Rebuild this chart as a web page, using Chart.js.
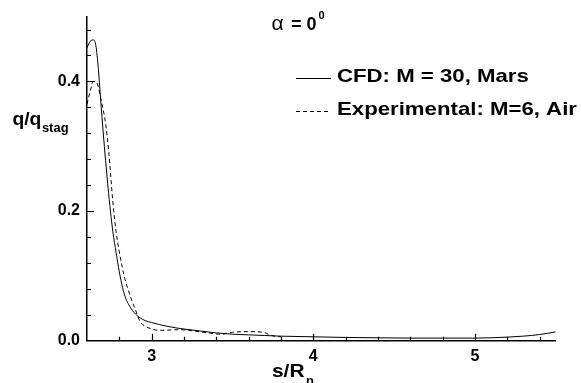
<!DOCTYPE html>
<html><head><meta charset="utf-8">
<script src="https://cdn.jsdelivr.net/npm/chart.js@4/dist/chart.umd.min.js"></script>
<style>html,body{margin:0;padding:0;background:#fff;overflow:hidden}canvas{display:block}</style>
</head><body>
<canvas id="c" width="581" height="383"></canvas>
<script>
// ---- data ----
const cfdS = [2.600, 2.620, 2.640, 2.655, 2.670, 2.685, 2.700, 2.715, 2.730, 2.745, 2.760, 2.780, 2.800, 2.820, 2.840, 2.860, 2.880, 2.900, 2.930, 2.960, 3.000, 3.100, 3.200, 3.300, 3.400, 3.500, 3.600, 3.700, 3.800, 4.000, 4.200, 4.400, 4.600, 4.800, 5.000, 5.100, 5.200, 5.300, 5.400, 5.500];
const cfdQ = [0.452, 0.462, 0.464, 0.455, 0.420, 0.370, 0.322, 0.278, 0.237, 0.200, 0.168, 0.136, 0.106, 0.082, 0.065, 0.055, 0.047, 0.041, 0.035, 0.031, 0.028, 0.022, 0.018, 0.015, 0.012, 0.010, 0.009, 0.008, 0.007, 0.006, 0.005, 0.0045, 0.004, 0.004, 0.004, 0.0045, 0.0055, 0.007, 0.0095, 0.0135];
const expS = [2.600, 2.620, 2.640, 2.660, 2.690, 2.715, 2.735, 2.760, 2.780, 2.800, 2.815, 2.835, 2.857, 2.880, 2.898, 2.915, 2.930, 2.970, 3.050, 3.180, 3.260, 3.350, 3.430, 3.500, 3.600, 3.690, 3.740, 3.800];
const expQ = [0.365, 0.385, 0.400, 0.398, 0.368, 0.335, 0.290, 0.214, 0.168, 0.137, 0.117, 0.095, 0.077, 0.060, 0.049, 0.037, 0.029, 0.021, 0.016, 0.017, 0.015, 0.012, 0.010, 0.013, 0.014, 0.013, 0.008, 0.006];
const seriesLabels = ['CFD: M = 30, Mars', 'Experimental: M=6, Air'];
const xTickLabels = [3, 4, 5];
const yTickLabels = [0.0, 0.2, 0.4];
const xMinorTicks = [2.8, 3.0, 3.2, 3.4, 3.6, 3.8, 4.0, 4.2, 4.4, 4.6, 4.8, 5.0, 5.2, 5.4];
const yMinorTicks = [0.04, 0.08, 0.12, 0.16, 0.2, 0.24, 0.28, 0.32, 0.36, 0.4, 0.44, 0.48];
const xTitle = ['s/R', 'n'];
const yTitle = ['q/q', 'stag'];
const angleText = ['\u03B1', '= 0', '0'];

const FAM = "'Liberation Sans', Arial, Helvetica, sans-serif";

function txt(ctx, s, x, y, font, sx) {
  ctx.save();
  ctx.font = font;
  ctx.textAlign = 'left';
  ctx.textBaseline = 'alphabetic';
  ctx.fillStyle = '#000';
  ctx.translate(x, y);
  ctx.scale(sx || 1, 1);
  ctx.fillText(s, 0, 0);
  const w = ctx.measureText(s).width * (sx || 1);
  ctx.restore();
  return w;
}

const decor = {
  id: 'decor',
  afterDraw(chart) {
    const ctx = chart.ctx;
    const xs = chart.scales.x, ys = chart.scales.y;
    const ca = chart.chartArea;
    ctx.save();
    ctx.strokeStyle = '#000';
    ctx.lineWidth = 1.2;
    ctx.beginPath();
    yMinorTicks.forEach(v => {
      const y = Math.round(ys.getPixelForValue(v)) + 0.5;
      const len = yTickLabels.some(t => Math.abs(t - v) < 1e-9) ? 7 : 4;
      ctx.moveTo(ca.left, y); ctx.lineTo(ca.left + len, y);
    });
    xMinorTicks.forEach(v => {
      const x = Math.round(xs.getPixelForValue(v)) + 0.5;
      const len = xTickLabels.some(t => Math.abs(t - v) < 1e-9) ? 7 : 4;
      ctx.moveTo(x, ca.bottom); ctx.lineTo(x, ca.bottom - len);
    });
    ctx.stroke();
    ctx.restore();

    // axis titles
    const w1 = txt(ctx, yTitle[0], 12.5, 124.5, 'bold 18px ' + FAM, 1.07);
    txt(ctx, yTitle[1], 12.5 + w1 + 0.5, 131.5, 'bold 13px ' + FAM, 1.0);
    const w2 = txt(ctx, xTitle[0], 272, 377, 'bold 19px ' + FAM, 1.1);
    txt(ctx, xTitle[1], 272 + w2 + 1.5, 385, 'bold 13px ' + FAM, 1.0);

    // angle annotation
    txt(ctx, angleText[0], 271.5, 30, '21px ' + FAM, 1.0);
    txt(ctx, angleText[1], 291, 30, 'bold 18px ' + FAM, 1.0);
    txt(ctx, angleText[2], 318.5, 19, 'bold 11px ' + FAM, 1.0);

    // legend
    const rows = [82, 115];
    chart.data.datasets.forEach((ds, i) => {
      const yb = rows[i];
      ctx.save();
      ctx.strokeStyle = '#000';
      ctx.lineWidth = 1;
      ctx.setLineDash(ds.borderDash || []);
      ctx.beginPath();
      ctx.moveTo(296, yb - 3.5); ctx.lineTo(331, yb - 3.5);
      ctx.stroke();
      ctx.restore();
      txt(ctx, ds.label, 337, yb, 'bold 18.5px ' + FAM, 1.2);
    });
  }
};

new Chart(document.getElementById('c'), {
  type: 'line',
  data: {
    datasets: [
      { label: seriesLabels[0], data: cfdS.map((s, i) => ({x: s, y: cfdQ[i]})),
        borderColor: '#000', borderWidth: 1, pointRadius: 0, fill: false, cubicInterpolationMode: 'monotone' },
      { label: seriesLabels[1], data: expS.map((s, i) => ({x: s, y: expQ[i]})),
        borderColor: '#000', borderWidth: 1, borderDash: [4, 3], pointRadius: 0, fill: false, cubicInterpolationMode: 'monotone' }
    ]
  },
  options: {
    responsive: false,
    devicePixelRatio: 1,
    animation: false,
    events: [],
    layout: { padding: { left: 0, right: 25.3, top: 11.7, bottom: 0 } },
    plugins: { legend: { display: false }, tooltip: { enabled: false } },
    scales: {
      x: {
        type: 'linear', position: 'bottom', min: 2.6, max: 5.5,
        grid: { display: false, drawTicks: false },
        border: { display: true, color: '#000', width: 1.5 },
        ticks: { color: '#000', padding: 6, font: { family: FAM, weight: 'bold', size: 16 }, maxRotation: 0,
                 callback: v => String(v) },
        afterBuildTicks: s => { s.ticks = xTickLabels.map(v => ({ value: v })); },
        afterFit: s => { s.height = 42.3; }
      },
      y: {
        type: 'linear', position: 'left', min: 0, max: 0.5,
        grid: { display: false, drawTicks: false },
        border: { display: true, color: '#000', width: 1.5 },
        ticks: { color: '#000', padding: 7, font: { family: FAM, weight: 'bold', size: 16 },
                 callback: v => Number(v).toFixed(1) },
        afterBuildTicks: s => { s.ticks = yTickLabels.map(v => ({ value: v })); },
        afterFit: s => { s.width = 87; }
      }
    }
  },
  plugins: [decor]
});
</script>
</body></html>
